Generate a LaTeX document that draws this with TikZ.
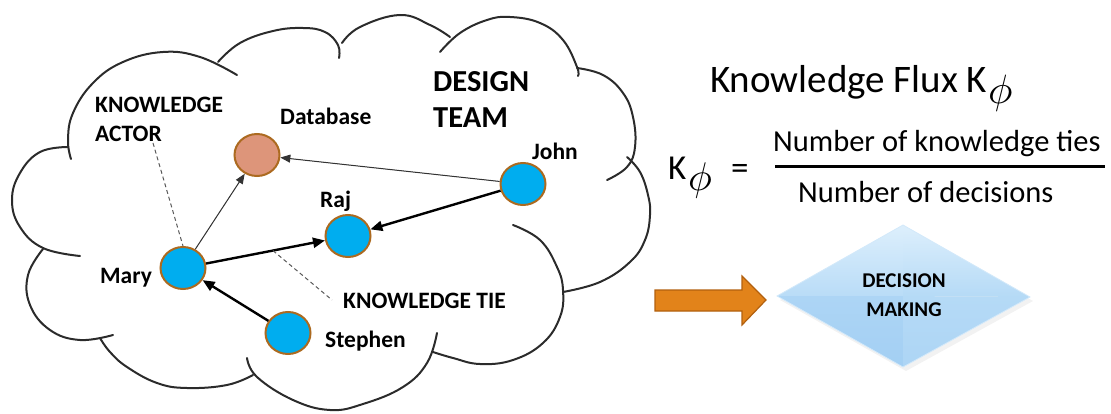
\documentclass[tikz,border=0pt]{standalone}
\usepackage{graphicx}
\usepackage{fontspec}
\setmainfont{Carlito}
\usetikzlibrary{arrows.meta,calc,shapes.geometric}
\definecolor{actorblue}{HTML}{00ADEF}
\definecolor{nodebrown}{HTML}{AC6A20}
\definecolor{dbfill}{HTML}{DD957A}
\definecolor{cloudline}{HTML}{2B2B2B}
\definecolor{orangefill}{HTML}{E2831A}
\definecolor{orangeline}{HTML}{B2600E}
\definecolor{dmA}{HTML}{DDEFFC}
\definecolor{dmB}{HTML}{B9DCF7}
\definecolor{dmC}{HTML}{ADD5F5}
\definecolor{dmD}{HTML}{A3CFF3}
\definecolor{dmE}{HTML}{B5DAF6}
\definecolor{dmEdge}{HTML}{D3E9FA}
\begin{document}
\begin{tikzpicture}[x=1pt,y=-1pt,
  actor/.style={ellipse, draw=nodebrown, line width=2pt, fill=actorblue, minimum width=45pt, minimum height=42pt, inner sep=0pt},
  lbl/.style={font=\fontsize{23.5}{27}\selectfont\bfseries, inner sep=0pt, anchor=base west},
  big/.style={font=\fontsize{30.5}{36}\selectfont\bfseries, inner sep=0pt, anchor=base west},
  formula/.style={font=\fontsize{30.5}{36}\selectfont, inner sep=0pt, anchor=base west},
  cloudpart/.style={draw=cloudline, line width=2pt, line cap=round},
  thinarr/.style={-{Triangle[length=10pt,width=8pt]}, line width=1pt, draw=black!80, fill=black!80},
  thickarr/.style={-{Triangle[length=12pt,width=10pt]}, line width=2.4pt, draw=black},
  dashline/.style={dash pattern=on 4pt off 3pt, line width=1pt, draw=black!65}
]
\useasboundingbox (0,0) rectangle (1111,414);

% ---------- cloud ----------
\draw[cloudpart] plot[smooth, tension=0.7] coordinates {(68,147) (40,152) (20,173) (12,200) (20,227) (43,248) (80,256)};
\draw[cloudpart] plot[smooth, tension=0.7] coordinates {(43,249) (28,275) (30,305) (50,330) (80,340) (113,335)};
\draw[cloudpart] plot[smooth, tension=0.7] coordinates {(100,338) (110,352) (127,367) (157,383) (187,388) (227,385) (253,375)};
\draw[cloudpart] plot[smooth, tension=0.7] coordinates {(247,358) (257,377) (293,400) (330,410) (363,404) (403,387) (427,363) (437,333)};
\draw[cloudpart] plot[smooth, tension=0.7] coordinates {(433,352) (453,358) (480,364) (513,360) (543,343) (560,317) (563,290) (557,267) (540,240) (513,225)};
\draw[cloudpart] plot[smooth, tension=0.7] coordinates {(563,292) (600,282) (630,262) (645,240) (650,215) (648,195) (640,172) (627,157)};
\draw[cloudpart] plot[smooth, tension=0.7] coordinates {(607,180) (627,167) (635,147) (633,117) (623,93) (603,75) (577,68)};
\draw[cloudpart] plot[smooth, tension=0.7] coordinates {(578,76) (577,67) (563,40) (540,23) (510,17) (487,20) (460,33) (440,52)};
\draw[cloudpart] plot[smooth, tension=0.7] coordinates {(450,37) (430,25) (400,15) (360,27) (342,43)};
\draw[cloudpart] plot[smooth, tension=0.7] coordinates {(339,58) (338,45) (325,32) (303,28) (273,31) (240,43) (218,62)};
\draw[cloudpart] plot[smooth, tension=0.7] coordinates {(237,75) (200,57) (163,52) (123,62) (93,83) (73,113) (68,140) (71,159)};

% ---------- nodes ----------
\node[actor] (mary) at (183,268) {};
\node[actor, fill=dbfill] (db) at (257,155) {};
\node[actor] (raj) at (348,236) {};
\node[actor] (john) at (523,184) {};
\node[actor] (stephen) at (288,333) {};

% ---------- labels ----------
\node[lbl] (ldb) at (280,125) {Database};
\node[lbl] (lraj) at (320,208) {Raj};
\node[lbl] (lmary) at (100,283) {Mary};
\node[lbl] (ljohn) at (532,160) {John};
\node[lbl] (lstephen) at (325,347) {Stephen};
\node[lbl] (lka1) at (95,113) {KNOWLEDGE};
\node[lbl] (lka2) at (95,142) {ACTOR};
\node[lbl] (ltie) at (343,308) {KNOWLEDGE TIE};
\node[big] (ld1) at (433,92) {DESIGN};
\node[big] (ld2) at (433,128) {TEAM};

% ---------- connectors ----------
\draw[thinarr] (mary) -- (db);
\draw[thinarr] (john) -- (db);
\draw[thickarr] (mary) -- (raj);
\draw[thickarr] (john) -- (raj);
\draw[thickarr] (stephen) -- (mary);
\coordinate (actorend) at (153,143);
\draw[dashline] (actorend) -- (mary.north);
\coordinate (tiestart) at ($(mary)!0.545!(raj)$);
\coordinate (tieend) at (332,300);
\draw[dashline] (tiestart) -- (tieend);

% ---------- formula ----------
\node[inner sep=0pt, anchor=base west, font=\fontsize{39}{44}\selectfont] (title) at (710,93) {Knowledge Flux K};
\node[inner sep=0pt, anchor=base west] (titlephi) at (988,104) {\scalebox{4.1}{$\phi$}};
\node[inner sep=0pt, anchor=base west, font=\fontsize{35}{40}\selectfont] (kk) at (668,180) {K};
\node[inner sep=0pt, anchor=base west] (kphi) at (688,191) {\scalebox{4.0}{$\phi$}};
\node[inner sep=0pt, anchor=base west, font=\fontsize{35}{40}\selectfont] (eq) at (731,180) {=};
\node[formula] (num) at (773,152) {Number of knowledge ties};
\node[formula] (den) at (798,203) {Number of decisions};
\coordinate (fracL) at (775,167);
\coordinate (fracR) at (1105,167);
\draw[line width=3pt] (fracL) -- (fracR);

% ---------- orange arrow ----------
\draw[fill=orangefill, draw=orangeline, line width=1.2pt, line join=miter]
  (655,290) -- (742,290) -- (742,276) -- (766,300) -- (742,325) -- (742,311) -- (655,311) -- cycle;

% ---------- decision diamond ----------
\coordinate (dL) at (777,296);
\coordinate (dT) at (903,225);
\coordinate (dR) at (1030,297);
\coordinate (dB) at (903,367);
\coordinate (dC) at (903,296);
\fill[black, opacity=0.05] ($(dL)+(3,4)$) -- ($(dT)+(3,4)$) -- ($(dR)+(3,4)$) -- ($(dB)+(3,4)$) -- cycle;
\shade[top color=dmA, bottom color=dmB] (dL) -- (dT) -- (dC) -- cycle;
\shade[top color=dmA, bottom color=dmE] (dT) -- (dR) -- (dC) -- cycle;
\shade[top color=dmC, bottom color=dmD] (dL) -- (dC) -- (dB) -- cycle;
\shade[top color=dmE, bottom color=dmC] (dC) -- (dR) -- (dB) -- cycle;
\draw[dmEdge, line width=0.8pt] (dL) -- (dT) -- (dR) -- (dB) -- cycle;
\node[inner sep=0pt, align=center, font=\fontsize{21}{29}\selectfont\bfseries] (dm) at (904,295) {DECISION\\MAKING};
\end{tikzpicture}
\end{document}
